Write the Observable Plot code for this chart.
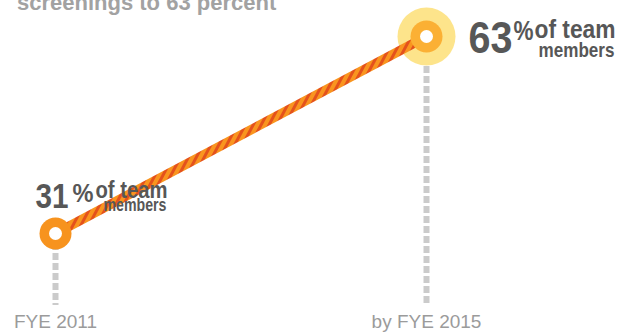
<!DOCTYPE html>
<html>
<head>
<meta charset="utf-8">
<script src="https://cdn.jsdelivr.net/npm/d3@7"></script>
<script src="https://cdn.jsdelivr.net/npm/@observablehq/plot@0.6"></script>
<style>
  html, body { margin: 0; padding: 0; background: #fff; overflow: hidden; }
  #wrap { position: relative; width: 623px; height: 334px; overflow: hidden; }
  #title { position: absolute; left: 17px; top: -8px; font: bold 22px/22px "Liberation Sans", Arial, sans-serif; color: #a2a2a2; white-space: nowrap; }
  #chart { position: absolute; left: 0; top: 0; }
</style>
</head>
<body>
<div id="wrap">
  <div id="chart"></div>
  <div id="title">screenings to 63 percent</div>
</div>
<script>
// ---- data ----
const periods = ["FYE 2011", "by FYE 2015"];
const shares = [31, 63];
const pctSign = ["%", "%"];
const labelLine1 = ["of team", "of team"];
const labelLine2 = ["members", "members"];

const data = periods.map((p, i) => ({
  period: p, value: shares[i], num: String(shares[i]),
  pct: pctSign[i], l1: labelLine1[i], l2: labelLine2[i]
}));
const start = data.filter((d, i) => i === 0);
const target = data.filter((d, i) => i === 1);

const sans = "'Liberation Sans', Arial, sans-serif";
const dark = "#575757";

// each label part: [dx, dy, fontSize, fitted width]
function labelMarks(rows, key, o) {
  const base = {x: "period", y: "value", fontFamily: sans, fontWeight: "bold", fill: dark, lineAnchor: "bottom"};
  return [
    Plot.text(rows, {...base, text: "num", textAnchor: "start", dx: o.num[0], dy: o.num[1], fontSize: o.num[2], className: `${key}-num`}),
    Plot.text(rows, {...base, text: "pct", textAnchor: "start", dx: o.pct[0], dy: o.pct[1], fontSize: o.pct[2], className: `${key}-pct`}),
    Plot.text(rows, {...base, text: "l1", textAnchor: "end", dx: o.l1[0], dy: o.l1[1], fontSize: o.l1[2], className: `${key}-l1`}),
    Plot.text(rows, {...base, text: "l2", textAnchor: "end", dx: o.l2[0], dy: o.l2[1], fontSize: o.l2[2], className: `${key}-l2`})
  ];
}

const startLbl = {num: [-20, -25, 35, 33], pct: [17, -31, 25, 21], l1: [112, -35, 24, 72], l2: [111, -22, 18, 63]};
const targetLbl = {num: [42, 16, 44, 44], pct: [87, 3, 27, 20], l1: [189, 1, 26, 81], l2: [188, 20, 21, 76]};

const yFloor = 19.3;

const chart = Plot.plot({
  width: 623,
  height: 334,
  marginLeft: 55,
  marginRight: 197,
  marginTop: 36,
  marginBottom: 29,
  x: {type: "point", domain: periods, padding: 0},
  y: {domain: [yFloor, 63], axis: null},
  marks: [
    Plot.ruleX(data, {x: "period", y1: "value", y2: yFloor, stroke: "#cbcbcb", strokeWidth: 6, strokeDasharray: "7,3"}),
    Plot.dot(target, {x: "period", y: "value", r: 29, fill: "#fde48b", stroke: "none"}),
    Plot.line(data, {x: "period", y: "value", stroke: "url(#rope)", strokeWidth: 9.5}),
    Plot.dot(start, {x: "period", y: "value", r: 16, fill: "#f7931e", stroke: "none"}),
    Plot.dot(target, {x: "period", y: "value", r: 16, fill: "#fbb034", stroke: "none"}),
    Plot.dot(data, {x: "period", y: "value", r: 6.5, fill: "#ffffff", stroke: "none"}),
    ...labelMarks(start, "s", startLbl),
    ...labelMarks(target, "t", targetLbl),
    Plot.axisX({tickSize: 0, tickPadding: 9, fontSize: 19, fill: "#9b9b9b", label: null, fontFamily: sans})
  ]
});

// fit the condensed-looking label parts to their widths
const svg = d3.select(chart);
for (const [key, o] of [["s", startLbl], ["t", targetLbl]]) {
  for (const part of ["num", "pct", "l1", "l2"]) {
    svg.selectAll(`.${key}-${part} text`)
      .attr("textLength", o[part][3])
      .attr("lengthAdjust", "spacingAndGlyphs");
  }
}

// rope-like diagonal stripes for the connecting line
const defs = svg.insert("defs", ":first-child");
const pat = defs.append("pattern")
  .attr("id", "rope")
  .attr("patternUnits", "userSpaceOnUse")
  .attr("width", 7).attr("height", 7)
  .attr("patternTransform", "rotate(28)");
pat.append("rect").attr("width", 7).attr("height", 7).attr("fill", "#f9951f");
pat.append("rect").attr("width", 3).attr("height", 7).attr("fill", "#e4521c");

document.getElementById("chart").appendChild(chart);
</script>
</body>
</html>
